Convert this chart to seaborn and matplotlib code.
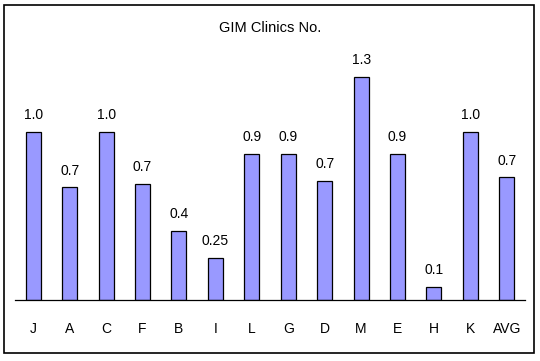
import numpy as np
import pandas as pd
import matplotlib
matplotlib.use("Agg")
import matplotlib.pyplot as plt
import seaborn as sns
from matplotlib.patches import Rectangle

# Data
clinics = ['J', 'A', 'C', 'F', 'B', 'I', 'L', 'G', 'D', 'M', 'E', 'H', 'K', 'AVG']
values = [1.0, 0.67, 1.0, 0.69, 0.41, 0.25, 0.87, 0.87, 0.71, 1.33, 0.87, 0.08, 1.0, 0.73]
value_labels = ['1.0', '0.7', '1.0', '0.7', '0.4', '0.25', '0.9', '0.9', '0.7', '1.3',
                '0.9', '0.1', '1.0', '0.7']

df = pd.DataFrame({'Clinic': clinics, 'Value': values})

sns.set_theme(style="white")
plt.rcParams['font.family'] = ['Liberation Sans', 'DejaVu Sans']

fig = plt.figure(figsize=(5.4, 3.61), dpi=100)

# Outer border around the chart
fig.patches.append(Rectangle((4 / 540, 1 - 353 / 361), 530 / 540, 348 / 361,
                             transform=fig.transFigure, fill=False,
                             edgecolor='black', linewidth=1.2))

ax = fig.add_axes([15 / 540, 61 / 361, 510 / 540, 252 / 361])
sns.barplot(data=df, x='Clinic', y='Value', color='#9999FF', saturation=1,
            edgecolor='black', linewidth=0.9, width=0.41, ax=ax)

# Value labels above the bars
for i, (v, lab) in enumerate(zip(values, value_labels)):
    ax.annotate(lab, (i, v), xytext=(0, 7), textcoords='offset points',
                ha='center', va='bottom', fontsize=10, color='black')

ax.set_ylim(0, 1.5)
ax.set_xlim(-0.5, len(clinics) - 0.5)
ax.set_xlabel('')
ax.set_ylabel('')
ax.set_yticks([])
ax.tick_params(axis='x', length=0, pad=16, labelsize=10, colors='black')
for side in ['top', 'left', 'right']:
    ax.spines[side].set_visible(False)
ax.spines['bottom'].set_color('black')
ax.spines['bottom'].set_linewidth(0.9)
ax.patch.set_alpha(0)

fig.text(270 / 540, 1 - 28 / 361, 'GIM Clinics No.', ha='center', va='center',
         fontsize=10.5, color='black')

fig.savefig('out.png', dpi=100)
